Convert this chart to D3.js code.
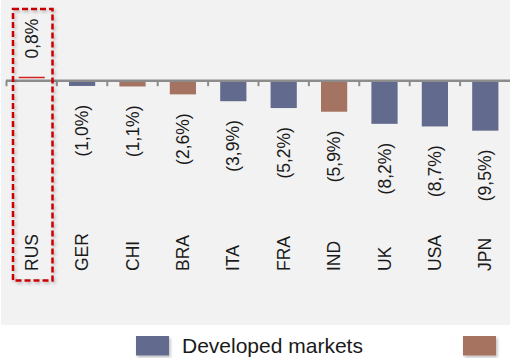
<!DOCTYPE html>
<html>
<head>
<meta charset="utf-8">
<script src="https://cdn.jsdelivr.net/npm/d3@7"></script>
<style>
  html, body { margin: 0; padding: 0; background: #ffffff; }
  svg { display: block; }
  text { font-family: "Liberation Sans", Arial, sans-serif; fill: #1a1a1a; }
</style>
</head>
<body>
<svg id="chart" width="510" height="358"></svg>
<script>
const categories = ["RUS", "GER", "CHI", "BRA", "ITA", "FRA", "IND", "UK", "USA", "JPN"];
const values = [0.8, -1.0, -1.1, -2.6, -3.9, -5.2, -5.9, -8.2, -8.7, -9.5];
const valueLabels = ["0,8%", "(1,0%)", "(1,1%)", "(2,6%)", "(3,9%)", "(5,2%)", "(5,9%)", "(8,2%)", "(8,7%)", "(9,5%)"];
const groups = ["highlight", "developed", "emerging", "emerging", "developed", "developed", "emerging", "developed", "developed", "developed"];
const legendLabels = ["Developed markets", ""];
const legendKeys = ["developed", "emerging"];

const colors = { developed: "#626a8d", emerging: "#a57361", highlight: "#f2f2f2" };

const svg = d3.select("#chart");
const defs = svg.append("defs");
const f = defs.append("filter").attr("id", "shadow").attr("x", "-20%").attr("y", "-20%").attr("width", "150%").attr("height", "150%");
f.append("feDropShadow").attr("dx", 1.5).attr("dy", 2).attr("stdDeviation", 1.5).attr("flood-color", "#000").attr("flood-opacity", 0.25);

// plot background
svg.append("rect").attr("x", 1).attr("y", 0).attr("width", 509).attr("height", 325).attr("fill", "#f2f2f2");

const x = d3.scaleBand().domain(categories).range([6.5, 510.5]).paddingInner(0.48).paddingOuter(0.24);
const y = d3.scaleLinear().domain([-10, 10]).range([80.7 + 52.6, 80.7 - 52.6]);

// bars
svg.append("g").selectAll("rect").data(categories).join("rect")
  .attr("x", d => x(d))
  .attr("width", x.bandwidth())
  .attr("y", (d, i) => y(Math.max(0, values[i])))
  .attr("height", (d, i) => Math.abs(y(values[i]) - y(0)))
  .attr("fill", (d, i) => colors[groups[i]]);

// highlight top line for positive bar
svg.append("g").selectAll("line").data(categories.filter((d, i) => groups[i] === "highlight")).join("line")
  .attr("x1", d => x(d)).attr("x2", d => x(d) + x.bandwidth())
  .attr("y1", d => y(values[categories.indexOf(d)]) + 1)
  .attr("y2", d => y(values[categories.indexOf(d)]) + 1)
  .attr("stroke", "#d42020").attr("stroke-width", 1.5);

// axis (zero line) with ticks between categories
const axis = d3.axisBottom(x).tickSize(0).tickFormat("");
const ag = svg.append("g").attr("transform", `translate(0,${y(0)})`).call(axis);
ag.select(".domain").remove();
ag.append("line").attr("x1", 6).attr("x2", 510).attr("y1", 0).attr("y2", 0)
  .attr("stroke", "#8c8c8c").attr("stroke-width", 2.6);
const step = x.step();
const tickXs = d3.range(categories.length).map(i => x(categories[i]) - (step - x.bandwidth()) / 2);
ag.selectAll("line.tk").data(tickXs).join("line").attr("class", "tk")
  .attr("x1", d => d).attr("x2", d => d).attr("y1", 0).attr("y2", 5.5)
  .attr("stroke", "#8c8c8c").attr("stroke-width", 2);

// value labels
svg.append("g").selectAll("text").data(categories).join("text")
  .attr("transform", (d, i) => {
    const cx = x(d) + x.bandwidth() / 2;
    const yy = values[i] >= 0 ? y(values[i]) + 1 - 19 : y(values[i]) + 19;
    return `translate(${cx},${yy}) rotate(-90)`;
  })
  .attr("text-anchor", (d, i) => values[i] >= 0 ? "start" : "end")
  .attr("dy", "0.35em")
  .style("font-size", "17.5px")
  .text((d, i) => valueLabels[i]);

// category labels
svg.append("g").selectAll("text").data(categories).join("text")
  .attr("transform", d => `translate(${x(d) + x.bandwidth() / 2},271) rotate(-90)`)
  .attr("text-anchor", "start")
  .attr("dy", "0.35em")
  .style("font-size", "17.5px")
  .text(d => d);

// highlight dashed box
svg.append("rect").attr("x", 13).attr("y", 9).attr("width", 39.5).attr("height", 271.5)
  .attr("fill", "none").attr("stroke", "#c80000").attr("stroke-width", 2.5)
  .attr("stroke-dasharray", "6,3").attr("filter", "url(#shadow)");

// legend (second label lies beyond the visible frame)
const legendX = [136, 463];
const lg = svg.append("g");
legendKeys.forEach((k, i) => {
  lg.append("rect").attr("x", legendX[i]).attr("y", 336).attr("width", 33).attr("height", 19.5)
    .attr("fill", colors[k]).attr("filter", "url(#shadow)");
  if (legendLabels[i]) {
    lg.append("text").attr("x", legendX[i] + 46).attr("y", 352.5)
      .style("font-size", "21px").text(legendLabels[i]);
  }
});
</script>
</body>
</html>
